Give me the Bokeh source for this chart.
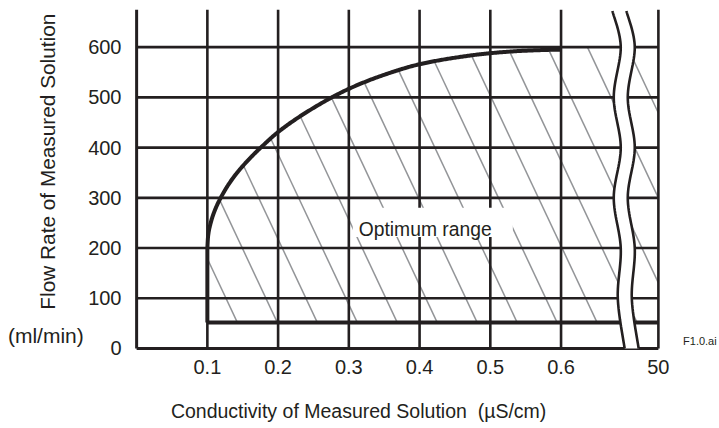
import numpy as np
from bokeh.plotting import figure
from bokeh.models import Range1d, FixedTicker, Label
from bokeh.embed import file_html
from bokeh.resources import INLINE

# ---------------- data ----------------
flow_ticks = [0, 100, 200, 300, 400, 500, 600]
cond_tick_labels = ["0.1", "0.2", "0.3", "0.4", "0.5", "0.6", "50"]
cond_tick_pos = [0.1, 0.2, 0.3, 0.4, 0.5, 0.6, 0.7376]   # "50" sits after the axis break

# upper limit curve of optimum range (conductivity uS/cm, flow ml/min)
curve_cond = [0.1, 0.101, 0.104, 0.11, 0.12, 0.135, 0.155, 0.18, 0.2, 0.25,
              0.3, 0.35, 0.4, 0.45, 0.5, 0.55, 0.6]
curve_flow = [200, 223, 246, 273, 303, 337, 371, 406, 431, 479,
              517, 545, 566, 579, 588, 593, 595]
min_cond = 0.1
min_flow = 52
max_flow = 600

# axis break (wavy) shape
break_flow = [672, 600, 500, 400, 300, 200, 100, 0]
break_left_cond = [0.6726, 0.6844, 0.6745, 0.6844, 0.6745, 0.6844, 0.6802, 0.6899]
break_gap = 0.0198

INK = "#231f20"
HATCH = "#939598"
FONT = "Liberation Sans"

X0, X1 = -0.003, 0.742
Y0, Y1 = -4, 675

p = figure(frame_width=527, frame_height=341, min_border_left=134, min_border_right=56,
           min_border_top=9, min_border_bottom=77,
           x_range=Range1d(X0, X1), y_range=Range1d(Y0, Y1),
           output_backend="svg", toolbar_location=None)
p.outline_line_color = None
p.grid.visible = False
p.background_fill_color = "white"

for ax in (p.xaxis[0], p.yaxis[0]):
    ax.axis_line_color = None
    ax.major_tick_line_color = None
    ax.minor_tick_line_color = None
    ax.major_label_text_font = FONT
    ax.major_label_text_font_size = "20px"
    ax.major_label_text_color = INK
p.yaxis.ticker = FixedTicker(ticks=flow_ticks)
p.yaxis.major_label_standoff = 7
p.xaxis.ticker = FixedTicker(ticks=cond_tick_pos)
p.xaxis.major_label_overrides = {pos: lab for pos, lab in zip(cond_tick_pos, cond_tick_labels)}
p.xaxis.major_label_standoff = 3

x_end = cond_tick_pos[-1]


def pchip(x, y, n=30):
    """monotone cubic (Fritsch-Carlson) through the points"""
    x = np.asarray(x, float); y = np.asarray(y, float)
    h = np.diff(x); dl = np.diff(y) / h
    d = np.zeros_like(y)
    for i in range(1, len(x) - 1):
        if dl[i - 1] * dl[i] > 0:
            w1 = 2 * h[i] + h[i - 1]; w2 = h[i] + 2 * h[i - 1]
            d[i] = (w1 + w2) / (w1 / dl[i - 1] + w2 / dl[i])
    d[0] = ((2 * h[0] + h[1]) * dl[0] - h[0] * dl[1]) / (h[0] + h[1])
    d[-1] = ((2 * h[-1] + h[-2]) * dl[-1] - h[-1] * dl[-2]) / (h[-1] + h[-2])
    xs, ys = [], []
    for i in range(len(h)):
        t = np.linspace(0, 1, n, endpoint=False)
        h00 = 2 * t**3 - 3 * t**2 + 1; h10 = t**3 - 2 * t**2 + t
        h01 = -2 * t**3 + 3 * t**2; h11 = t**3 - t**2
        xs.append(x[i] + t * h[i])
        ys.append(h00 * y[i] + h10 * h[i] * d[i] + h01 * y[i + 1] + h11 * h[i] * d[i + 1])
    xs.append(x[-1:]); ys.append(y[-1:])
    return np.concatenate(xs), np.concatenate(ys)


def smooth(xs, ys, n=24):
    pts = np.column_stack([xs, ys]).astype(float)
    P = np.vstack([pts[0], pts, pts[-1]])
    out = []
    t = np.linspace(0, 1, n, endpoint=False)[:, None]
    for i in range(1, len(P) - 2):
        p0, p1, p2, p3 = P[i - 1], P[i], P[i + 1], P[i + 2]
        out.append(0.5 * ((2 * p1) + (-p0 + p2) * t + (2 * p0 - 5 * p1 + 4 * p2 - p3) * t ** 2
                          + (-p0 + 3 * p1 - 3 * p2 + p3) * t ** 3))
    out.append(pts[-1:])
    a = np.vstack(out)
    return a[:, 0], a[:, 1]


sx, sy = pchip(curve_cond, curve_flow)


# ---------------- hatch ----------------
def upper(x):
    return np.where(x <= curve_cond[-1], np.interp(x, sx, sy), max_flow)

k = 0.000334      # x shift per unit of flow (slant)
sp = 0.0565       # spacing
xp = 0.6373       # a line passes here at flow 600
hx0, hy0, hx1, hy1 = [], [], [], []
ys = np.linspace(min_flow, max_flow, 3000)
for n in range(-20, 6):
    xs = xp + n * sp + (max_flow - ys) * k
    inside = (xs >= min_cond) & (xs <= x_end) & (ys <= upper(xs)) & (ys >= min_flow)
    if inside.sum() < 2:
        continue
    idx = np.where(inside)[0]
    hx0.append(xs[idx[-1]]); hy0.append(ys[idx[-1]])
    hx1.append(xs[idx[0]]); hy1.append(ys[idx[0]])
p.segment(x0=hx0, y0=hy0, x1=hx1, y1=hy1, line_color=HATCH, line_width=1.5)

# ---------------- grid ----------------
p.segment(x0=0, x1=x_end, y0=flow_ticks[1:], y1=flow_ticks[1:], line_color=INK, line_width=2.6)
p.segment(x0=cond_tick_pos, x1=cond_tick_pos, y0=0, y1=Y1, line_color=INK, line_width=2.6)
p.segment(x0=[0, 0], y0=[0, 0], x1=[0, x_end], y1=[Y1, 0], line_color=INK, line_width=3)

# ---------------- optimum range boundary ----------------
p.line(np.r_[min_cond, sx], np.r_[min_flow, sy], line_color=INK, line_width=4, line_join="round")
p.line([min_cond, x_end], [min_flow, min_flow], line_color=INK, line_width=4)

# ---------------- axis break ----------------
bx_l, by_l = smooth(break_left_cond, break_flow, n=16)
bx_r = bx_l + break_gap
p.patch(np.r_[bx_l, bx_r[::-1]], np.r_[by_l, by_l[::-1]], fill_color="white", line_color=None)
p.line(bx_l, by_l, line_color=INK, line_width=2.6)
p.line(bx_r, by_l, line_color=INK, line_width=2.6)

# ---------------- texts ----------------
p.quad(left=0.3056, right=0.5318, bottom=222, top=280, fill_color="white", line_color=None)
p.add_layout(Label(x=0.314, y=237, text="Optimum range", text_font=FONT, text_font_size="19.3px",
                   text_color=INK, text_align="left", text_baseline="alphabetic"))

# texts outside the frame go into side panels so they are not clipped
p.add_layout(Label(x=-0.1255, y=372, text="Flow Rate of Measured Solution", angle=np.pi / 2,
                   text_font=FONT, text_font_size="20.8px", text_color=INK,
                   text_align="center", text_baseline="middle"), "left")
p.add_layout(Label(x=-0.1283, y=26, text="(ml/min)", text_font=FONT, text_font_size="21px",
                   text_color=INK, text_align="center", text_baseline="middle"), "below")
p.add_layout(Label(x=0.3138, y=-123.5,
                   text="Conductivity of Measured Solution\u00a0 (\u00b5S/cm)",
                   text_font=FONT, text_font_size="19.5px", text_color=INK,
                   text_align="center", text_baseline="middle"), "below")
p.add_layout(Label(x=0.8200, y=14, text="F1.0.ai", text_font=FONT, text_font_size="11px",
                   text_color=INK, text_align="right", text_baseline="middle"), "right")

open("out.html", "w").write(file_html(p, INLINE))
